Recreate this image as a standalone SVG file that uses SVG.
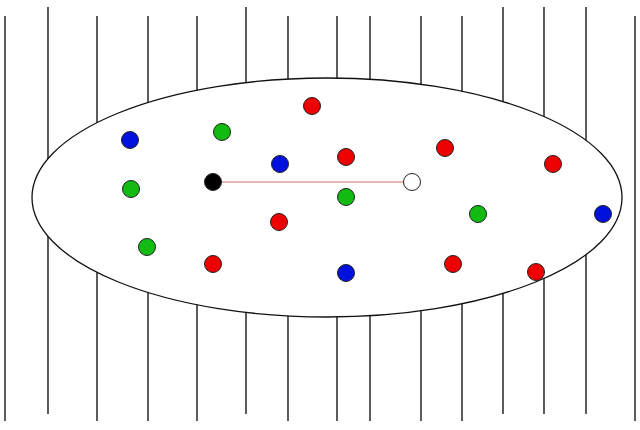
<svg xmlns="http://www.w3.org/2000/svg" width="640" height="430" viewBox="0 0 640 430">
<style>
.v{stroke:#333;stroke-width:1.6;fill:none}
.d{stroke:#222;stroke-width:1}
.r{fill:#ee0000}.g{fill:#11bb11}.b{fill:#0010dd}.k{fill:#000}.w{fill:#fff}
</style>
<rect width="640" height="430" fill="#fff"/>
<g id="lines">
<line class="v" x1="5" y1="16" x2="5" y2="421"/>
<line class="v" x1="48" y1="7" x2="48" y2="414"/>
<line class="v" x1="97" y1="16" x2="97" y2="421"/>
<line class="v" x1="148" y1="16" x2="148" y2="421"/>
<line class="v" x1="197" y1="16" x2="197" y2="421"/>
<line class="v" x1="246" y1="7" x2="246" y2="414"/>
<line class="v" x1="288" y1="16" x2="288" y2="421"/>
<line class="v" x1="337" y1="16" x2="337" y2="421"/>
<line class="v" x1="370" y1="16" x2="370" y2="421"/>
<line class="v" x1="421" y1="16" x2="421" y2="421"/>
<line class="v" x1="462" y1="16" x2="462" y2="421"/>
<line class="v" x1="503" y1="7" x2="503" y2="414"/>
<line class="v" x1="544" y1="7" x2="544" y2="414"/>
<line class="v" x1="586" y1="7" x2="586" y2="414"/>
<line class="v" x1="635" y1="16" x2="635" y2="421"/>
</g>
<ellipse id="region" cx="327" cy="197.5" rx="295" ry="119.5" fill="#fff" stroke="#111" stroke-width="1.3"/>
<g id="connectors">
<line x1="213" y1="182" x2="412" y2="182" stroke="#e8b4b4" stroke-width="2"/>
</g>
<g id="dots">
<circle class="d b" cx="130" cy="140" r="8.5"/>
<circle class="d g" cx="222" cy="132" r="8.5"/>
<circle class="d r" cx="312" cy="106" r="8.5"/>
<circle class="d b" cx="280" cy="164" r="8.5"/>
<circle class="d r" cx="346" cy="157" r="8.5"/>
<circle class="d r" cx="445" cy="148" r="8.5"/>
<circle class="d r" cx="553" cy="164" r="8.5"/>
<circle class="d g" cx="131" cy="189" r="8.5"/>
<circle id="black" class="d k" cx="213" cy="182" r="8.5"/>
<circle id="white" class="d w" cx="412" cy="182" r="8.5"/>
<circle class="d g" cx="346" cy="197" r="8.5"/>
<circle class="d g" cx="478" cy="214" r="8.5"/>
<circle class="d b" cx="603" cy="214" r="8.5"/>
<circle class="d r" cx="279" cy="222" r="8.5"/>
<circle class="d g" cx="147" cy="247" r="8.5"/>
<circle class="d r" cx="213" cy="264" r="8.5"/>
<circle class="d b" cx="346" cy="273" r="8.5"/>
<circle class="d r" cx="453" cy="264" r="8.5"/>
<circle class="d r" cx="536" cy="272" r="8.5"/>
</g>
</svg>
